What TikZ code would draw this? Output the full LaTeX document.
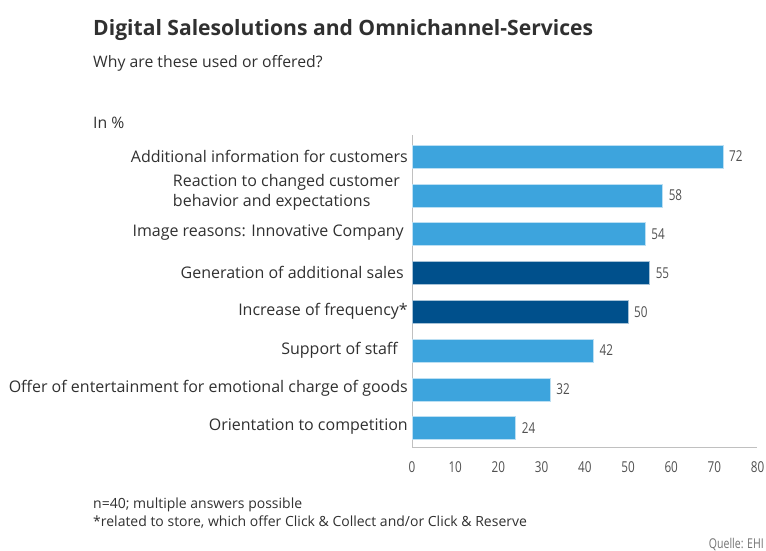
\documentclass[tikz,border=0pt]{standalone}
\usepackage{fontspec}
\setmainfont{Open Sans}
\newfontfamily\numfont[FakeStretch=0.78]{Open Sans}
\usetikzlibrary{positioning}

\definecolor{barlight}{HTML}{3DA4DD}
\definecolor{bardark}{HTML}{00508C}
\definecolor{txtgray}{HTML}{303030}
\definecolor{numgray}{HTML}{505050}
\definecolor{axisgray}{HTML}{C0C0C0}

\begin{document}
\begin{tikzpicture}[
   x=1pt, y=-1pt,
   titlestyle/.style={anchor=base west, inner sep=0pt, text=txtgray, font=\bfseries\fontsize{21.1}{25}\selectfont},
   textstyle/.style={anchor=base west, inner sep=0pt, text=txtgray, font=\fontsize{15.8}{19}\selectfont},
   notestyle/.style={anchor=base west, inner sep=0pt, text=txtgray, font=\fontsize{14}{19}\selectfont},
   catlabel/.style={anchor=east, inner sep=0pt, text=txtgray, font=\fontsize{16}{20}\selectfont},
   value/.style={anchor=west, inner sep=0pt, text=numgray, font=\numfont\fontsize{15}{17}\selectfont},
   ticklabel/.style={anchor=base, inner sep=0pt, text=numgray, font=\numfont\fontsize{15}{17}\selectfont},
   axisline/.style={draw=axisgray, line width=0.8pt},
   barbox/.style={draw=white!65!#1, fill=#1, line width=0.6pt}
]

% fixed frame of the picture (1pt = 1px of the reference)
\useasboundingbox (0,0) rectangle (766,550);

% --- headings
\node[titlestyle] (title) at (93,35) {Digital Salesolutions and Omnichannel-Services};
\node[textstyle] (subtitle) at (93,67) {Why are these used or offered?};
\node[textstyle] (unit) at (93,128) {In \%};

% --- axes
\coordinate (origin) at (412,447);
\coordinate (ytop) at (412,135);
\coordinate (xend) at (757,447);
\draw[axisline] (ytop) -- (origin) -- (xend);

\foreach \t in {0,10,...,80}
   \node[ticklabel] (tick\t) at (412+4.32*\t,472) {\t};

% --- bars: value / row / colour
\foreach \val/\row/\col in {72/0/barlight, 58/1/barlight, 54/2/barlight, 55/3/bardark,
                            50/4/bardark, 42/5/barlight, 32/6/barlight, 24/7/barlight} {
   \pgfmathsetmacro{\yc}{156.5+38.8*\row}
   \pgfmathsetmacro{\xe}{412+4.32*\val}
   \draw[barbox=\col] (412,\yc-11.5) rectangle (\xe,\yc+11.5);
   \node[value] (val\row) at (\xe+6,\yc) {\val};
}

% --- category labels
\node[catlabel] (cat0) at (408,156.5) {Additional information for customers};
\node[catlabel, align=left] (cat1) at (400,192) {Reaction to changed customer\\behavior and expectations};
\node[catlabel] (cat2) at (404,233) {Image reasons: Innovative Company};
\node[catlabel] (cat3) at (404,272) {Generation of additional sales};
\node[catlabel] (cat4) at (408,311) {Increase of frequency*};
\node[catlabel] (cat5) at (398,350) {Support of staff};
\node[catlabel] (cat6) at (408,388.5) {Offer of entertainment for emotional charge of goods};
\node[catlabel] (cat7) at (408,427) {Orientation to competition};

% --- notes and source
\node[notestyle] (note1) at (93,508) {n=40; multiple answers possible};
\node[notestyle] (note2) at (93,526) {*related to store, which offer Click \& Collect and/or Click \& Reserve};
\node[anchor=base east, inner sep=0pt, text=numgray!80, font=\numfont\fontsize{13.5}{15}\selectfont] (source) at (764,548) {Quelle: EHI};

\end{tikzpicture}
\end{document}
